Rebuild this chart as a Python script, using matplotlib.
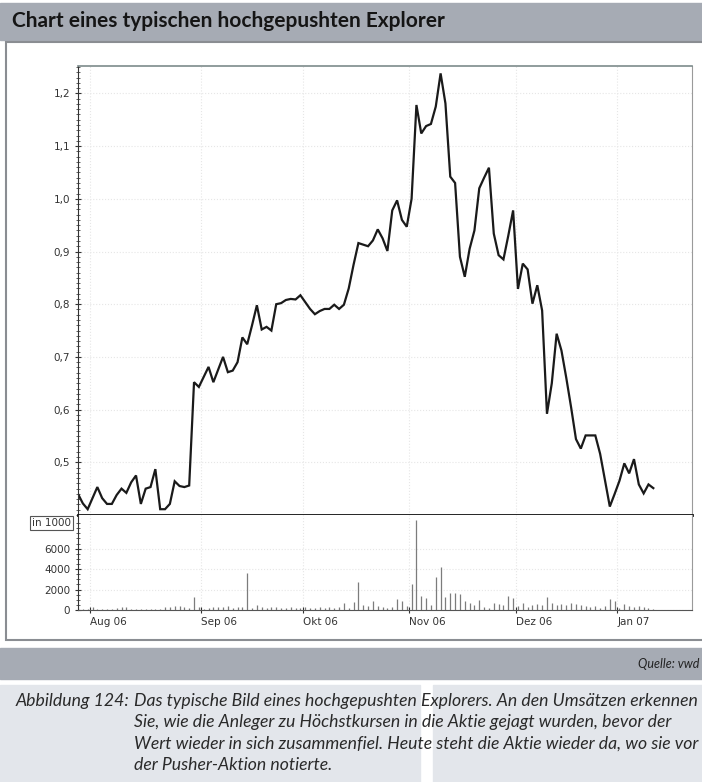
import matplotlib.pyplot as plt
import numpy as np
import pandas as pd
from matplotlib.patches import Rectangle
from matplotlib.ticker import MultipleLocator, FixedLocator, FuncFormatter

W, H = 702, 782

TITLE = "Chart eines typischen hochgepushten Explorer"
SOURCE = "Quelle: vwd"
CAPTION_HEAD = "Abbildung 124:"
CAPTION_LINES = [
    "Das typische Bild eines hochgepushten Explorers. An den Umsätzen erkennen",
    "Sie, wie die Anleger zu Höchstkursen in die Aktie gejagt wurden, bevor der",
    "Wert wieder in sich zusammenfiel. Heute steht die Aktie wieder da, wo sie vor",
    "der Pusher-Aktion notierte.",
]

START = "2006-07-27"
MONTH_LABELS = ["Aug 06", "Sep 06", "Okt 06", "Nov 06", "Dez 06", "Jan 07"]
PRICE_TICKS = [0.5, 0.6, 0.7, 0.8, 0.9, 1.0, 1.1, 1.2]
VOLUME_TICKS = [0, 2000, 4000, 6000]

# daily close (EUR)
close = [
    0.440, 0.422, 0.411, 0.432, 0.453, 0.432, 0.421, 0.421, 0.438, 0.450,
    0.442, 0.462, 0.475, 0.421, 0.450, 0.453, 0.487, 0.411, 0.411, 0.421,
    0.464, 0.455, 0.453, 0.456, 0.652, 0.643, 0.662, 0.681, 0.652, 0.676,
    0.700, 0.671, 0.674, 0.690, 0.737, 0.724, 0.760, 0.798, 0.752, 0.757,
    0.750, 0.800, 0.802, 0.808, 0.810, 0.809, 0.817, 0.804, 0.791, 0.781,
    0.787, 0.791, 0.791, 0.799, 0.791, 0.799, 0.830, 0.875, 0.916, 0.913,
    0.910, 0.921, 0.942, 0.925, 0.901, 0.978, 0.997, 0.960, 0.947, 1.000,
    1.178, 1.124, 1.138, 1.142, 1.175, 1.238, 1.181, 1.042, 1.030, 0.890,
    0.852, 0.905, 0.940, 1.020, 1.040, 1.059, 0.934, 0.893, 0.885, 0.930,
    0.978, 0.829, 0.877, 0.866, 0.801, 0.836, 0.788, 0.592, 0.650, 0.744,
    0.712, 0.660, 0.604, 0.544, 0.526, 0.551, 0.551, 0.551, 0.516, 0.466,
    0.416, 0.440, 0.465, 0.498, 0.479, 0.506, 0.458, 0.441, 0.458, 0.451,
]

# daily turnover (in 1000)
volume = [
    150, 100, 50, 300, 80, 60, 80, 100, 200, 250,
    300, 100, 50, 80, 120, 60, 50, 80, 300, 250,
    350, 400, 300, 200, 1300, 300, 100, 200, 300, 250,
    300, 350, 200, 300, 250, 3600, 200, 500, 300, 200,
    250, 300, 200, 150, 250, 200, 150, 250, 200, 150,
    300, 200, 250, 150, 300, 700, 200, 800, 2700, 500,
    400, 900, 400, 300, 200, 300, 1100, 900, 400, 2500,
    8800, 1400, 1200, 500, 3200, 4200, 1300, 1700, 1700, 1600,
    900, 700, 500, 1000, 300, 200, 700, 600, 500, 1400,
    1200, 400, 700, 300, 500, 600, 500, 1300, 700, 500,
    600, 500, 700, 600, 500, 400, 300, 400, 200, 400,
    1100, 900, 200, 600, 400, 300, 400, 300, 200, 100,
]

dates = pd.bdate_range(START, periods=len(close))
x = np.arange(len(close))
month_start = [i for i in range(1, len(dates)) if dates[i].month != dates[i - 1].month]
tick_pos = [i - 0.5 for i in month_start]


def fbox(x0, y0, x1, y1):
    # pixel box (top-left origin) -> figure fraction rect
    return [x0 / W, 1 - y1 / H, (x1 - x0) / W, (y1 - y0) / H]


def add_rect(x0, y0, x1, y1, **kw):
    b = fbox(x0, y0, x1, y1)
    fig.add_artist(Rectangle(b[:2], b[2], b[3], transform=fig.transFigure, zorder=0, **kw))


fig = plt.figure(figsize=(W / 100, H / 100), dpi=100)
fig.patch.set_facecolor("white")

# page decorations
add_rect(0, 3, W, 40, color="#a6abb4")
add_rect(6, 42, W + 5, 640, facecolor="white", edgecolor="#8a8d92", lw=1.5)
add_rect(0, 648, W, 679, color="#a6abb4")
add_rect(0, 685, 420, H, color="#e3e6eb")
add_rect(433, 685, W, H, color="#e3e6eb")

fig.text(12 / W, 1 - 21 / H, TITLE, fontsize=15, fontweight="bold", family="Lato",
         color="#151515", va="center", ha="left")
fig.text(699 / W, 1 - 664 / H, SOURCE, fontsize=9, style="italic", family="Lato",
         color="#222222", va="center", ha="right")
fig.text(129 / W, 1 - 701 / H, CAPTION_HEAD, fontsize=12.7, style="italic", family="Lato",
         color="#2a2a2a", va="center", ha="right")
for k, line in enumerate(CAPTION_LINES):
    fig.text(134 / W, 1 - (701 + 21.3 * k) / H, line, fontsize=12.7, style="italic",
             family="Lato", color="#2a2a2a", va="center", ha="left")

# price panel
ax = fig.add_axes(fbox(78, 66, 692, 515))
ax.plot(x, close, color="#1a1a1a", lw=1.6, solid_joinstyle="miter")
ax.set_xlim(0, 127)
ax.set_ylim(0.4, 1.252)
ax.yaxis.set_major_locator(FixedLocator(PRICE_TICKS))
ax.yaxis.set_minor_locator(MultipleLocator(0.01))
ax.yaxis.set_major_formatter(FuncFormatter(lambda v, p: f"{v:.1f}".replace(".", ",")))
ax.set_xticks(tick_pos)
ax.tick_params(axis="x", bottom=False, labelbottom=False)
ax.tick_params(axis="y", which="major", direction="inout", length=5, width=0.8,
               labelsize=7.5, labelcolor="#333333", color="#333333", pad=3)
ax.tick_params(axis="y", which="minor", direction="inout", length=2.5, width=0.6, color="#444444")
ax.grid(True, which="major", color="#e6e6e6", ls=":", lw=0.8)
ax.spines["left"].set_color("#333333")
ax.spines["top"].set_color("#7d8b8b")
ax.spines["top"].set_linewidth(1.2)
ax.spines["right"].set_color("#9a9a9a")
ax.spines["bottom"].set_color("#111111")
ax.spines["bottom"].set_linewidth(2.0)

# volume panel
av = fig.add_axes(fbox(78, 515, 692, 610))
av.vlines(x, 0, volume, color="#7c7c7c", lw=0.9)
av.set_xlim(0, 127)
av.set_ylim(0, 9300)
av.yaxis.set_major_locator(FixedLocator(VOLUME_TICKS))
av.yaxis.set_minor_locator(FixedLocator(np.arange(0, 8501, 500)))
av.set_xticks(tick_pos)
av.set_xticklabels(MONTH_LABELS, ha="left")
av.tick_params(axis="x", direction="inout", length=4, labelsize=7.5, labelcolor="#333333",
               color="#333333", pad=3)
av.tick_params(axis="y", which="major", direction="inout", length=5, width=0.8,
               labelsize=7.5, labelcolor="#333333", color="#333333", pad=3)
av.tick_params(axis="y", which="minor", direction="inout", length=2.5, width=0.6, color="#444444")
av.grid(True, which="major", color="#e6e6e6", ls=":", lw=0.8)
av.spines["top"].set_visible(False)
av.spines["left"].set_color("#333333")
av.spines["right"].set_color("#9a9a9a")
av.spines["bottom"].set_color("#555555")

fig.text(32 / W, 1 - 523 / H, "in 1000", fontsize=7.5, color="#333333", va="center", ha="left",
         bbox=dict(boxstyle="square,pad=0.15", facecolor="white", edgecolor="#555555", lw=0.8))

fig.savefig("out.png", dpi=100)
